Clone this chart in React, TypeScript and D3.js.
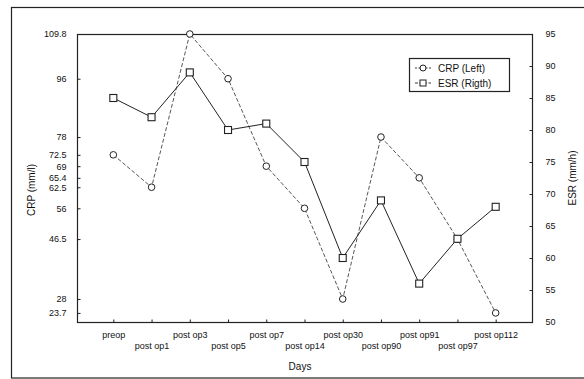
import { useEffect, useRef } from 'react'
import * as d3 from 'd3'

const days = ['preop', 'post op1', 'post op3', 'post op5', 'post op7', 'post op14', 'post op30', 'post op90', 'post op91', 'post op97', 'post op112']
const crp = [72.5, 62.5, 109.8, 96, 69, 56, 28, 78, 65.4, 46.5, 23.7]
const esr = [85, 82, 89, 80, 81, 75, 60, 69, 56, 63, 68]
const crpTicks = [109.8, 96, 78, 72.5, 69, 65.4, 62.5, 56, 46.5, 28, 23.7]
const esrTicks = [50, 55, 60, 65, 70, 75, 80, 85, 90, 95]

const W = 584, H = 379
const FONT = '"Liberation Sans", Arial, sans-serif'

function App() {
	const ref = useRef<SVGSVGElement>(null)

	useEffect(() => {
		const svg = d3.select(ref.current)
		svg.selectAll('*').remove()

		const margin = { top: 34, right: 52, bottom: 57, left: 77 }
		const left = margin.left, right = W - margin.right
		const top = margin.top, bottom = H - margin.bottom

		// outer frame of the figure
		svg.append('rect')
			.attr('x', 11.5).attr('y', 7.5)
			.attr('width', 600).attr('height', 370.5)
			.attr('fill', 'none').attr('stroke', '#222').attr('stroke-width', 1.2)

		const x = d3.scalePoint<string>().domain(days).range([left, right]).padding(0.95)
		const yL = d3.scaleLinear().domain([20.9, 109.8]).range([bottom, top])
		const yR = d3.scaleLinear().domain([50, 95]).range([bottom, top])

		// plot box
		svg.append('rect')
			.attr('x', left + 0.5).attr('y', top + 0.5)
			.attr('width', right - left).attr('height', bottom - top)
			.attr('fill', 'none').attr('stroke', '#222').attr('stroke-width', 1.2)

		// left axis
		const gL = svg.append('g').attr('transform', `translate(${left + 0.5},0)`)
			.call(d3.axisLeft(yL).tickValues(crpTicks).tickSize(-3).tickPadding(11).tickFormat(d => String(d)))
		gL.select('.domain').remove()

		// right axis
		const gR = svg.append('g').attr('transform', `translate(${right + 0.5},0)`)
			.call(d3.axisRight(yR).tickValues(esrTicks).tickSize(-3).tickPadding(13))
		gR.select('.domain').remove()

		// bottom axis, labels staggered on two lines
		const gB = svg.append('g').attr('transform', `translate(0,${bottom + 0.5})`)
			.call(d3.axisBottom(x).tickSize(-3).tickPadding(9))
		gB.select('.domain').remove()
		gB.selectAll('.tick text')
			.attr('dy', (_d, i) => (i % 2 === 0 ? '0.71em' : '1.95em'))

		svg.selectAll('.tick line').attr('stroke', '#222')
		svg.selectAll('.tick text')
			.attr('font-family', FONT).attr('font-size', 9).attr('fill', '#111')

		// axis titles
		svg.append('text')
			.attr('transform', `translate(35,${(top + bottom) / 2 + 12}) rotate(-90)`)
			.attr('text-anchor', 'middle')
			.attr('font-family', FONT).attr('font-size', 10).attr('fill', '#111')
			.text('CRP (mm/l)')
		svg.append('text')
			.attr('transform', `translate(576,${(top + bottom) / 2}) rotate(-90)`)
			.attr('text-anchor', 'middle')
			.attr('font-family', FONT).attr('font-size', 10).attr('fill', '#111')
			.text('ESR (mm/h)')
		svg.append('text')
			.attr('x', 300).attr('y', 370)
			.attr('text-anchor', 'middle')
			.attr('font-family', FONT).attr('font-size', 10).attr('fill', '#111')
			.text('Days')

		// CRP line (dashed)
		const crpLine = d3.line<number>().x((_d, i) => x(days[i])!).y(d => yL(d))
		svg.append('path')
			.attr('d', crpLine(crp))
			.attr('fill', 'none').attr('stroke', '#444').attr('stroke-width', 0.9)
			.attr('stroke-dasharray', '4,2')

		// ESR line (solid)
		const esrLine = d3.line<number>().x((_d, i) => x(days[i])!).y(d => yR(d))
		svg.append('path')
			.attr('d', esrLine(esr))
			.attr('fill', 'none').attr('stroke', '#222').attr('stroke-width', 1)

		svg.selectAll('circle.crp')
			.data(crp)
			.join('circle')
			.attr('class', 'crp')
			.attr('cx', (_d, i) => x(days[i])!)
			.attr('cy', d => yL(d))
			.attr('r', 3.3)
			.attr('fill', '#fff').attr('stroke', '#222').attr('stroke-width', 1)

		svg.selectAll('rect.esr')
			.data(esr)
			.join('rect')
			.attr('class', 'esr')
			.attr('x', (_d, i) => x(days[i])! - 3.5)
			.attr('y', d => yR(d) - 3.5)
			.attr('width', 7).attr('height', 7)
			.attr('fill', '#fff').attr('stroke', '#222').attr('stroke-width', 1.1)

		// legend
		const lg = svg.append('g').attr('transform', 'translate(409,58)')
		lg.append('rect')
			.attr('x', 0.5).attr('y', 0.5).attr('width', 100).attr('height', 33)
			.attr('fill', '#fff').attr('stroke', '#222').attr('stroke-width', 1.2)
		const rows = [
			{ label: 'CRP (Left)', dash: '2,1.5', shape: 'circle' },
			{ label: 'ESR (Rigth)', dash: '3,1.5', shape: 'square' },
		]
		rows.forEach((r, i) => {
			const cy = 10 + i * 15
			lg.append('line')
				.attr('x1', 6).attr('x2', 22).attr('y1', cy).attr('y2', cy)
				.attr('stroke', '#222').attr('stroke-width', 0.9).attr('stroke-dasharray', r.dash)
			if (r.shape === 'circle') {
				lg.append('circle').attr('cx', 14).attr('cy', cy).attr('r', 3)
					.attr('fill', '#fff').attr('stroke', '#222')
			} else {
				lg.append('rect').attr('x', 11).attr('y', cy - 3).attr('width', 6).attr('height', 6)
					.attr('fill', '#fff').attr('stroke', '#222')
			}
			lg.append('text')
				.attr('x', 29).attr('y', cy).attr('dy', '0.35em')
				.attr('font-family', FONT).attr('font-size', 10).attr('fill', '#111')
				.text(r.label)
		})
	}, [])

	return (
		<div style={{ position: 'absolute', left: 0, top: 0, width: W, height: H, background: '#fff' }}>
			<svg ref={ref} width={W} height={H} style={{ display: 'block' }} />
		</div>
	)
}

export default App
